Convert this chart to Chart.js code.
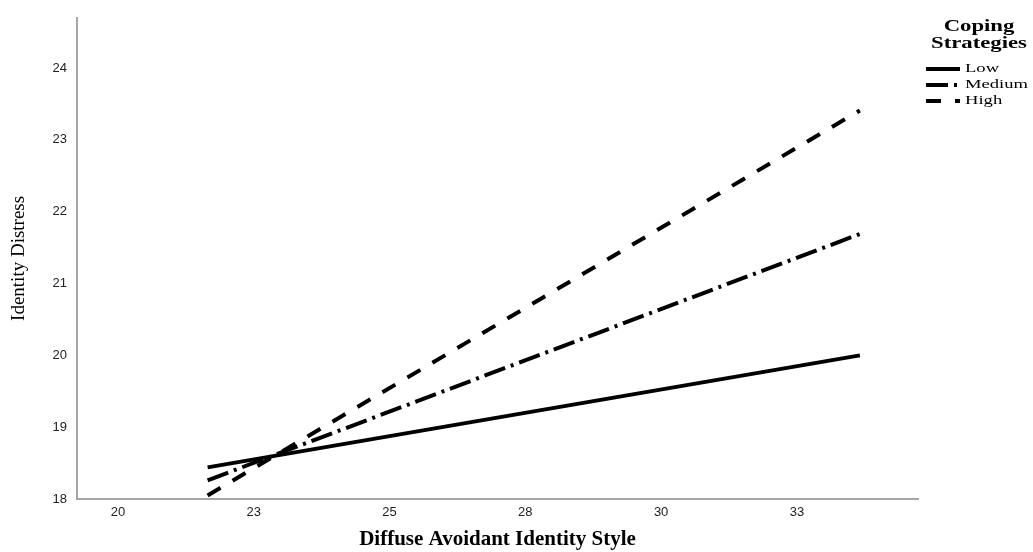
<!DOCTYPE html>
<html>
<head>
<meta charset="utf-8">
<title>Identity Distress</title>
<script src="https://cdn.jsdelivr.net/npm/chart.js@4.4.1/dist/chart.umd.min.js"></script>
<style>
  html, body { margin: 0; padding: 0; background: #fff; }
  #wrap { width: 1033px; height: 552px; }
</style>
</head>
<body>
<div id="wrap"><canvas id="grafico"></canvas></div>
<script>
// valores
const xValues = [21.65, 33.66];
const lowValues = [18.44, 20.0];
const mediumValues = [18.26, 21.69];
const highValues = [18.05, 23.41];
const xTickValues = [20, 22.5, 25, 27.5, 30, 32.5];
const xTickLabels = ["20", "23", "25", "28", "30", "33"];
const yTickValues = [18, 19, 20, 21, 22, 23, 24];
const legendTitle = ["Coping", "Strategies"];

const puntos = (ys) => xValues.map((x, i) => ({ x: x, y: ys[i] }));

// leyenda dibujada a mano (titulo en dos lineas)
const leyenda = {
  id: 'leyenda',
  afterDraw(chart) {
    const ctx = chart.ctx;
    ctx.save();
    ctx.fillStyle = '#000';
    ctx.textBaseline = 'middle';
    ctx.textAlign = 'center';
    ctx.font = 'bold 16px "Liberation Serif", "Times New Roman", serif';
    legendTitle.forEach((t, i) => {
      ctx.save();
      ctx.translate(979, 27 + i * 17);
      ctx.scale(1.42, 1);
      ctx.fillText(t, 0, 0);
      ctx.restore();
    });

    ctx.textAlign = 'left';
    ctx.font = '13px "Liberation Serif", "Times New Roman", serif';
    chart.data.datasets.forEach((ds, i) => {
      const y = 69 + i * 16;
      ctx.beginPath();
      ctx.setLineDash(ds.borderDash || []);
      ctx.lineWidth = 4;
      ctx.strokeStyle = '#000';
      ctx.moveTo(926, y);
      ctx.lineTo(960, y);
      ctx.stroke();
      ctx.setLineDash([]);
      ctx.save();
      ctx.translate(965, y);
      ctx.scale(1.43, 1);
      ctx.fillText(ds.label, 0, 0);
      ctx.restore();
    });
    ctx.restore();
  }
};

const tickFont = { family: '"Liberation Sans", Arial, sans-serif', size: 13 };

new Chart(document.getElementById('grafico'), {
  type: 'line',
  data: {
    datasets: [
      { label: 'Low', data: puntos(lowValues), borderColor: '#000', backgroundColor: '#000', borderDash: [] },
      { label: 'Medium', data: puntos(mediumValues), borderColor: '#000', backgroundColor: '#000', borderDash: [22, 6, 3, 6] },
      { label: 'High', data: puntos(highValues), borderColor: '#000', backgroundColor: '#000', borderDash: [15, 14] }
    ]
  },
  options: {
    responsive: true,
    maintainAspectRatio: false,
    animation: false,
    layout: { padding: { top: 9, right: 115, left: 0, bottom: 0 } },
    elements: {
      line: { borderWidth: 4, tension: 0, borderCapStyle: 'butt' },
      point: { radius: 0, hoverRadius: 0 }
    },
    plugins: {
      colors: { enabled: false },
      legend: { display: false },
      tooltip: { enabled: false }
    },
    scales: {
      x: {
        type: 'linear',
        min: 19.245,
        max: 34.73,
        afterBuildTicks: (axis) => { axis.ticks = xTickValues.map(v => ({ value: v })); },
        afterFit: (axis) => { axis.height = 53; },
        grid: { drawOnChartArea: false, drawTicks: false },
        border: { color: '#a6a6a6', width: 2 },
        ticks: {
          padding: 6,
          color: '#222',
          font: tickFont,
          maxRotation: 0,
          autoSkip: false,
          callback: (v, i) => xTickLabels[i]
        },
        title: {
          display: true,
          text: 'Diffuse Avoidant Identity Style',
          color: '#000',
          font: { family: '"Liberation Serif", "Times New Roman", serif', size: 21, weight: 'bold' },
          padding: { top: 0, bottom: 0 }
        }
      },
      y: {
        min: 18,
        max: 24.7,
        afterBuildTicks: (axis) => { axis.ticks = yTickValues.map(v => ({ value: v })); },
        afterFit: (axis) => { axis.width = 77; },
        grid: { drawOnChartArea: false, drawTicks: false },
        border: { color: '#a6a6a6', width: 2 },
        ticks: { padding: 10, color: '#222', font: tickFont },
        title: {
          display: true,
          text: 'Identity Distress',
          color: '#000',
          font: { family: '"Liberation Serif", "Times New Roman", serif', size: 19 },
          padding: { top: 8, bottom: 0 }
        }
      }
    }
  },
  plugins: [leyenda]
});
</script>
</body>
</html>
